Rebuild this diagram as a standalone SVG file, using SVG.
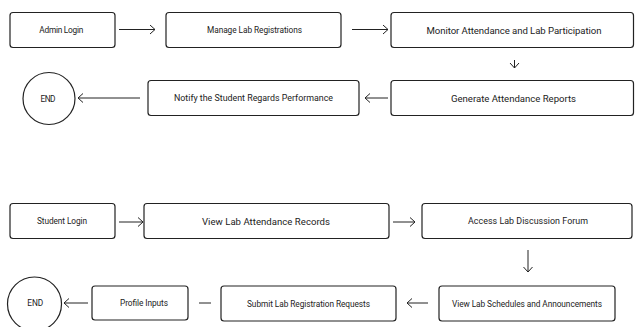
<svg xmlns="http://www.w3.org/2000/svg" width="635" height="327" viewBox="0 0 635 327">
<defs>
<style>
.box{fill:#fff;stroke:#222;stroke-width:1.2}
.c{fill:#fff;stroke:#222;stroke-width:1.2}
.t{font-family:Roboto,"Liberation Sans",sans-serif;font-size:8.3px;fill:#222;text-anchor:middle;dominant-baseline:central}
.l{font-size:9.6px}
.e{fill:none;stroke:#222;stroke-width:1}
</style>
<marker id="ah" markerUnits="userSpaceOnUse" markerWidth="12" markerHeight="12" refX="6" refY="5" orient="auto">
<path d="M1,0.5 L6,5 L1,9.5" fill="none" stroke="#222" stroke-width="1"/>
</marker>
</defs>
<rect width="635" height="327" fill="#fff"/>
<g id="edges">
<line class="e" x1="119" y1="29.5" x2="155" y2="29.5" marker-end="url(#ah)"/>
<line class="e" x1="352" y1="29.5" x2="388" y2="29.5" marker-end="url(#ah)"/>
<line class="e" x1="514.5" y1="60" x2="514.5" y2="68" marker-end="url(#ah)"/>
<line class="e" x1="388" y1="98" x2="365" y2="98" marker-end="url(#ah)"/>
<line class="e" x1="140" y1="98" x2="78" y2="98" marker-end="url(#ah)"/>
<line class="e" x1="119" y1="222" x2="143" y2="222" marker-end="url(#ah)"/>
<line class="e" x1="393" y1="222" x2="415" y2="222" marker-end="url(#ah)"/>
<line class="e" x1="528" y1="250" x2="528" y2="272" marker-end="url(#ah)"/>
<line class="e" x1="428" y1="303" x2="407" y2="303" marker-end="url(#ah)"/>
<line class="e" x1="199" y1="303" x2="211" y2="303"/>
<line class="e" x1="88" y1="303" x2="64" y2="303" marker-end="url(#ah)"/>
</g>
<g id="admin-login"><rect class="box" x="10" y="12.5" width="105" height="35" rx="3"/><text class="t" x="61.3" y="30" textLength="44">Admin Login</text></g>
<g id="manage-lab"><rect class="box" x="166" y="12.5" width="175" height="35" rx="3"/><text class="t" x="254.5" y="30" textLength="95">Manage Lab Registrations</text></g>
<g id="monitor"><rect class="box" x="391" y="12.5" width="242.5" height="35" rx="3"/><text class="t l" x="514" y="30" textLength="175">Monitor Attendance and Lab Participation</text></g>
<g id="generate"><rect class="box" x="391" y="80.5" width="242.5" height="35" rx="3"/><text class="t l" x="513.5" y="98" textLength="125">Generate Attendance Reports</text></g>
<g id="notify"><rect class="box" x="148" y="80.5" width="211" height="35" rx="3"/><text class="t" x="253.5" y="98" textLength="159" style="font-size:8.9px">Notify the Student Regards Performance</text></g>
<g id="end-admin"><circle class="c" cx="49" cy="98.5" r="26"/><text class="t" x="48" y="98.5" textLength="15">END</text></g>
<g id="student-login"><rect class="box" x="10" y="203.5" width="105" height="35" rx="3"/><text class="t" x="62" y="221" textLength="50">Student Login</text></g>
<g id="view-attendance"><rect class="box" x="144" y="203.5" width="245" height="35" rx="3"/><text class="t l" x="266" y="221" textLength="128">View Lab Attendance Records</text></g>
<g id="access-forum"><rect class="box" x="422" y="203.5" width="210" height="35" rx="3"/><text class="t" x="528" y="221" textLength="120" style="font-size:8.9px">Access Lab Discussion Forum</text></g>
<g id="view-schedules"><rect class="box" x="439" y="286" width="176" height="35" rx="3"/><text class="t" x="527" y="303.5" textLength="150">View Lab Schedules and Announcements</text></g>
<g id="submit"><rect class="box" x="221" y="286" width="175" height="35" rx="3"/><text class="t" x="308.5" y="303.5" textLength="123">Submit Lab Registration Requests</text></g>
<g id="profile"><rect class="box" x="92" y="286" width="96" height="34" rx="3"/><text class="t" x="144" y="303" textLength="48">Profile Inputs</text></g>
<g id="end-student"><circle class="c" cx="34.5" cy="304" r="27"/><text class="t" x="35.3" y="303" textLength="16">END</text></g>
</svg>
